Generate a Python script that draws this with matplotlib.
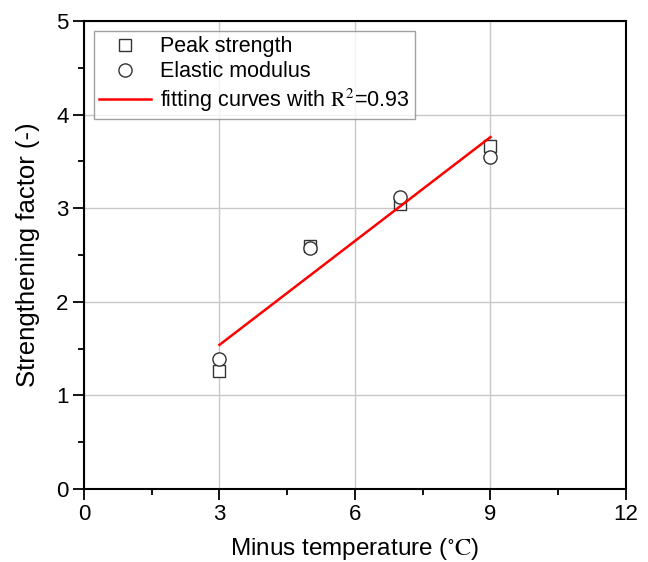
import matplotlib
matplotlib.use('Agg')
import matplotlib.pyplot as plt
from matplotlib.ticker import MultipleLocator

plt.rcParams['font.family'] = ['Liberation Sans', 'DejaVu Sans']
plt.rcParams['mathtext.fontset'] = 'stix'

# data
temperature = [3, 5, 7, 9]
peak_strength = [1.26, 2.60, 3.04, 3.67]
elastic_modulus = [1.39, 2.58, 3.12, 3.55]
fit_x = [3, 9]
fit_y = [1.54, 3.76]

fig = plt.figure(figsize=(6.48, 5.62), dpi=100)
ax = fig.add_axes([0.1296, 0.1299, 0.8364, 0.8327])

ax.plot(temperature, peak_strength, linestyle='none', marker='s', markersize=8.5,
        markerfacecolor='white', markeredgecolor='#333333', markeredgewidth=1.0,
        label='Peak strength', zorder=3)
ax.plot(temperature, elastic_modulus, linestyle='none', marker='o', markersize=9.5,
        markerfacecolor='white', markeredgecolor='#333333', markeredgewidth=1.0,
        label='Elastic modulus', zorder=3)
ax.plot(fit_x, fit_y, color='red', linewidth=1.8,
        label=r'fitting curves with $\mathrm{R}^{2}$=0.93', zorder=4)

ax.set_xlim(0, 12)
ax.set_ylim(0, 5)
ax.xaxis.set_major_locator(MultipleLocator(3))
ax.xaxis.set_minor_locator(MultipleLocator(1.5))
ax.yaxis.set_major_locator(MultipleLocator(1))
ax.yaxis.set_minor_locator(MultipleLocator(0.5))
ax.grid(True, which='major', color='#c8c8c8', linewidth=1.0)
ax.set_axisbelow(True)

ax.tick_params(which='major', direction='out', length=8, width=1.3,
               labelsize=16, pad=3)
ax.tick_params(which='minor', direction='out', length=4, width=1.3)
for s in ax.spines.values():
    s.set_linewidth(1.5)

ax.set_xlabel(r'Minus temperature ($\mathrm{{}^{\circ}C}$)', fontsize=17.5, labelpad=8)
ax.set_ylabel('Strengthening factor (-)', fontsize=18.5, labelpad=12)

leg = ax.legend(loc='upper left', fontsize=15.5, frameon=True, fancybox=False,
                edgecolor='#888888', handlelength=2.4, borderaxespad=0.45,
                labelspacing=0.2, handletextpad=0.45, borderpad=0.25)
leg.get_frame().set_linewidth(1.0)

fig.savefig('out.png', dpi=100)
